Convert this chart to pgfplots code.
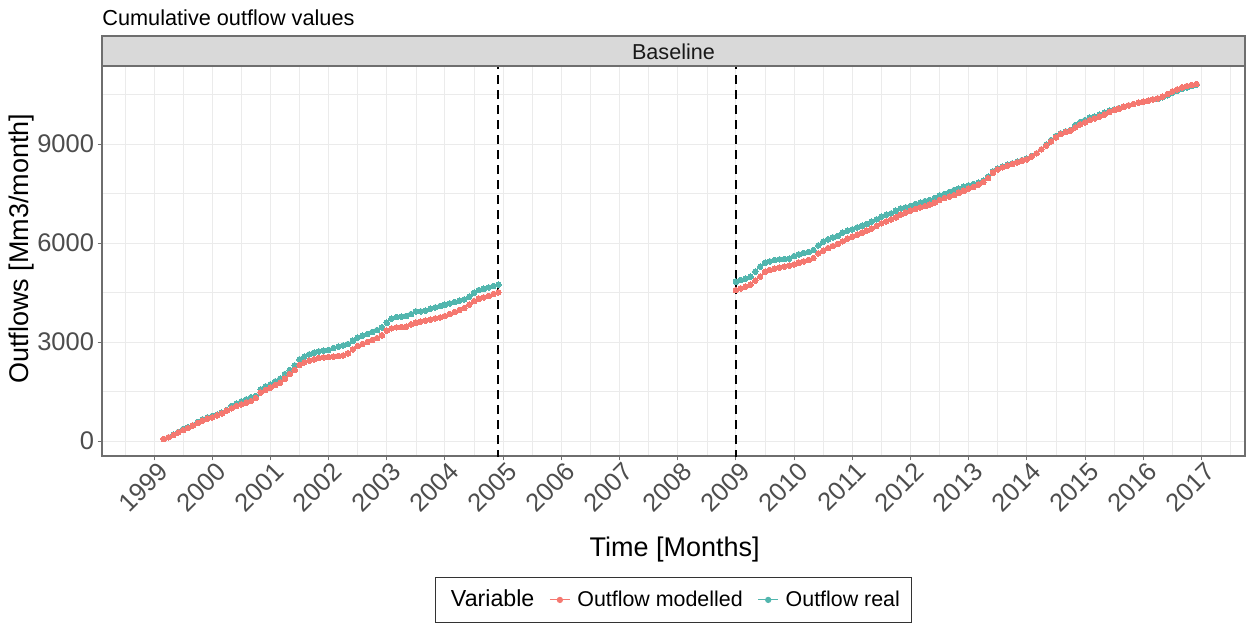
\documentclass[border=0pt]{standalone}
\usepackage{fontspec}
\setmainfont{Liberation Sans}
\usepackage{pgfplots}
\usepackage{pgfplotstable}
\pgfplotsset{compat=1.18}
\definecolor{redc}{RGB}{245,120,112}
\definecolor{tealc}{RGB}{82,182,174}
\definecolor{gridc}{RGB}{235,235,235}
\definecolor{tickc}{RGB}{77,77,77}
\definecolor{stripc}{RGB}{217,217,217}
\definecolor{framec}{RGB}{110,110,110}

\pgfplotstableread{
x modelled real
1999.167 61 61
1999.250 111 111
1999.333 182 192
1999.417 263 273
1999.500 333 364
1999.583 394 414
1999.667 465 475
1999.750 545 576
1999.833 616 657
1999.917 677 717
2000.000 717 758
2000.083 778 798
2000.167 838 859
2000.250 919 939
2000.333 990 1061
2000.417 1061 1131
2000.500 1111 1202
2000.583 1161 1263
2000.667 1212 1323
2000.750 1303 1364
2000.833 1464 1566
2000.917 1545 1657
2001.000 1616 1717
2001.083 1697 1808
2001.167 1768 1889
2001.250 1889 2030
2001.333 2030 2151
2001.417 2151 2293
2001.500 2303 2475
2001.583 2384 2555
2001.667 2434 2626
2001.750 2475 2677
2001.833 2515 2717
2001.917 2535 2737
2002.000 2545 2757
2002.083 2555 2818
2002.167 2576 2858
2002.250 2596 2899
2002.333 2656 2939
2002.417 2778 3040
2002.500 2879 3131
2002.583 2939 3192
2002.667 3000 3242
2002.750 3060 3303
2002.833 3121 3363
2002.917 3202 3444
2003.000 3343 3585
2003.083 3414 3707
2003.167 3444 3757
2003.250 3454 3767
2003.333 3464 3788
2003.417 3535 3848
2003.500 3585 3929
2003.583 3616 3929
2003.667 3646 3949
2003.750 3676 4010
2003.833 3717 4050
2003.917 3747 4091
2004.000 3788 4131
2004.083 3848 4171
2004.167 3909 4212
2004.250 3969 4252
2004.333 4030 4292
2004.417 4131 4373
2004.500 4242 4494
2004.583 4313 4575
2004.667 4353 4615
2004.750 4394 4656
2004.833 4454 4696
2004.917 4505 4737
2007.000 nan nan
2009.000 4576 4828
2009.083 4626 4879
2009.167 4677 4919
2009.250 4737 4980
2009.333 4858 5131
2009.417 4980 5283
2009.500 5131 5404
2009.583 5182 5444
2009.667 5222 5485
2009.750 5252 5505
2009.833 5283 5515
2009.917 5313 5525
2010.000 5353 5606
2010.083 5404 5656
2010.167 5444 5697
2010.250 5485 5727
2010.333 5545 5788
2010.417 5686 5929
2010.500 5767 6040
2010.583 5848 6111
2010.667 5909 6171
2010.750 5970 6212
2010.833 6050 6313
2010.917 6131 6374
2011.000 6192 6414
2011.083 6252 6474
2011.167 6313 6525
2011.250 6374 6576
2011.333 6434 6646
2011.417 6515 6717
2011.500 6596 6798
2011.583 6656 6858
2011.667 6717 6899
2011.750 6778 6980
2011.833 6858 7050
2011.917 6919 7081
2012.000 6980 7121
2012.083 7030 7181
2012.167 7081 7222
2012.250 7121 7272
2012.333 7162 7303
2012.417 7222 7363
2012.500 7303 7444
2012.583 7363 7484
2012.667 7404 7545
2012.750 7454 7606
2012.833 7525 7646
2012.917 7585 7706
2013.000 7646 7747
2013.083 7696 7787
2013.167 7767 7828
2013.250 7848 7888
2013.333 7969 8010
2013.417 8131 8171
2013.500 8232 8252
2013.583 8293 8313
2013.667 8343 8373
2013.750 8394 8414
2013.833 8444 8464
2013.917 8495 8515
2014.000 8535 8555
2014.083 8616 8636
2014.167 8717 8717
2014.250 8838 8838
2014.333 8949 8979
2014.417 9080 9121
2014.500 9201 9242
2014.583 9302 9323
2014.667 9363 9384
2014.750 9404 9424
2014.833 9505 9576
2014.917 9596 9667
2015.000 9656 9727
2015.083 9727 9798
2015.167 9777 9828
2015.250 9828 9889
2015.333 9889 9949
2015.417 9969 10010
2015.500 10030 10050
2015.583 10070 10091
2015.667 10131 10131
2015.750 10171 10171
2015.833 10212 10212
2015.917 10252 10252
2016.000 10282 10282
2016.083 10313 10313
2016.167 10353 10353
2016.250 10383 10373
2016.333 10434 10414
2016.417 10515 10474
2016.500 10595 10555
2016.583 10656 10616
2016.667 10717 10676
2016.750 10757 10717
2016.833 10787 10757
2016.917 10818 10798
}\datatab

\begin{document}
\begin{tikzpicture}
\path[use as bounding box] (0,0) rectangle (623pt,311.5pt);
\begin{axis}[
  at={(51pt,83.5pt)}, anchor=south west,
  scale only axis, width=571.5pt, height=195pt,
  xmin=1998.106, xmax=2017.749, ymin=-454.5, ymax=11364,
  xtick={1999,2000,...,2017}, ytick={0,3000,6000,9000},
  minor xtick={1998.5,1999.5,...,2017.5},
  minor ytick={-1500,1500,4500,7500,10500},
  grid=both,
  major grid style={color=gridc, line width=0.5pt},
  minor grid style={color=gridc, line width=0.25pt},
  tick align=outside, major tick length=2.2pt, minor tick length=0pt,
  tick pos=left,
  tick style={color=framec, line width=0.5pt},
  axis line style={color=framec, line width=0.6pt},
  scaled ticks=false,
  unbounded coords=jump,
  /pgf/number format/1000 sep={},
  /pgf/number format/assume math mode=true,
  xticklabel style={rotate=45, anchor=north east, inner sep=1pt, xshift=2pt, font=\fontsize{12.75}{14}\selectfont, text=tickc},
  yticklabel style={inner xsep=1.6pt, font=\fontsize{12.75}{14}\selectfont, text=tickc},
  xlabel={Time [Months]},
  xlabel style={at={(axis description cs:0.501,-0.241)}, anchor=center, font=\fontsize{13.5}{15}\selectfont},
  ylabel={Outflows [Mm3/month]},
  ylabel style={at={(axis description cs:-0.07,0.532)}, anchor=center, font=\fontsize{13.5}{15}\selectfont},
  legend columns=3,
  legend style={at={(axis description cs:0.5004,-0.369)}, anchor=center, draw=black!80, line width=0.5pt,
    inner xsep=4pt, inner ysep=4.5pt, font=\fontsize{10.7}{12}\selectfont,
    /tikz/every odd column/.append style={column sep=1.5pt},
    /tikz/every even column/.append style={column sep=5.5pt}},
]
\addlegendimage{empty legend}
\addlegendentry{\fontsize{11.6}{13}\selectfont Variable}
\addlegendimage{color=redc, legend image code/.code={\draw[redc, line width=0.5pt] (0pt,0pt) -- (10pt,0pt); \fill[redc] (5pt,0pt) circle (1.3pt);}}
\addlegendentry{Outflow modelled}
\addlegendimage{color=tealc, legend image code/.code={\draw[tealc, line width=0.5pt] (0pt,0pt) -- (10pt,0pt); \fill[tealc] (5pt,0pt) circle (1.3pt);}}
\addlegendentry{Outflow real}

\addplot[tealc, only marks, mark=*, mark size=1.4pt, mark options={fill=tealc, draw=tealc, line width=0pt}, forget plot] table[x=x, y=real] {\datatab};
\addplot[redc, only marks, mark=*, mark size=1.4pt, mark options={fill=redc, draw=redc, line width=0pt}, forget plot] table[x=x, y=modelled] {\datatab};
\addplot[black, line width=1pt, dash pattern=on 4.5pt off 3pt, forget plot] coordinates {(2004.917,-1000) (2004.917,12000)};
\addplot[black, line width=1pt, dash pattern=on 4.5pt off 3pt, forget plot] coordinates {(2009.0,-1000) (2009.0,12000)};
\end{axis}
\filldraw[fill=stripc, draw=framec, line width=0.6pt] (51pt,278.5pt) rectangle (622.5pt,293.5pt);
\node[anchor=base, font=\fontsize{10.8}{12}\selectfont, text=black!90, inner sep=0pt] at (336.75pt,282pt) {Baseline};
\node[anchor=base west, font=\fontsize{10.85}{12}\selectfont, inner sep=0pt] at (51pt,298.5pt) {Cumulative outflow values};
\end{tikzpicture}
\end{document}
